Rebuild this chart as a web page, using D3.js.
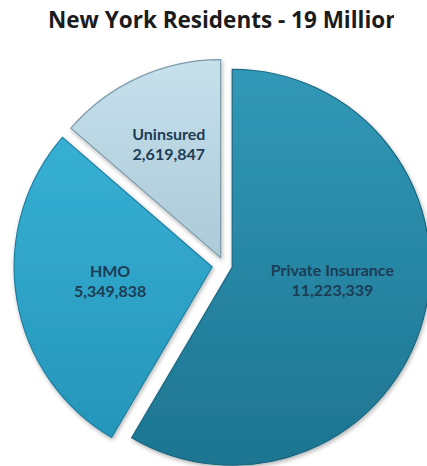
<!DOCTYPE html>
<html>
<head>
<meta charset="utf-8" />
<script src="https://d3js.org/d3.v7.min.js"></script>
<style>
	body { margin: 0; background: #fff; }
	svg { display: block; }
</style>
</head>
<body>
<div id="chart"></div>
<script>

// chart data
var chartTitle = "New York Residents - 19 Million";
var categories = ["Private Insurance", "HMO", "Uninsured"];
var residents = [11223339, 5349838, 2619847];
var topColors = ["#3198b7", "#3ab6da", "#c6e0ec"];
var bottomColors = ["#1d7591", "#2593b8", "#93b4c4"];
var rimColors = ["#1a6680", "#1f7fa0", "#7d9cab"];

var width = 427, height = 466;
var cx = 224, cy = 265;
var radius = 198;
var explode = [8.5, 12, 8];
// where the two label lines sit, as a share of the radius, and a small turn (radians)
var labelDist = [0.51, 0.52, 0.63];
var labelTurn = [-0.14, 0.03, 0];

var svg = d3.select("#chart")
	.append("svg")
	.attr("width", width)
	.attr("height", height);

var defs = svg.append("defs");

// title, cut at the right like in the picture
defs.append("clipPath").attr("id", "titleClip")
	.append("rect")
	.attr("x", 0).attr("y", 0)
	.attr("width", 394).attr("height", 50);

svg.append("text")
	.attr("clip-path", "url(#titleClip)")
	.attr("x", 48)
	.attr("y", 28)
	.style("font-family", "'Open Sans', sans-serif")
	.style("font-weight", "bold")
	.style("font-size", "22.5px")
	.style("fill", "#1b1b1b")
	.text(chartTitle);

// one vertical gradient for each slice
categories.forEach(function (c, i) {
	var grad = defs.append("linearGradient")
		.attr("id", "grad" + i)
		.attr("gradientUnits", "userSpaceOnUse")
		.attr("x1", 0).attr("y1", -radius)
		.attr("x2", 0).attr("y2", radius);
	grad.append("stop").attr("offset", "0%").attr("stop-color", topColors[i]);
	grad.append("stop").attr("offset", "100%").attr("stop-color", bottomColors[i]);
});

var shadow = defs.append("filter")
	.attr("id", "shadow")
	.attr("x", "-20%").attr("y", "-20%")
	.attr("width", "140%").attr("height", "140%");
shadow.append("feDropShadow")
	.attr("dx", 1).attr("dy", 2)
	.attr("stdDeviation", 2)
	.attr("flood-color", "#000")
	.attr("flood-opacity", 0.3);

var pie = d3.pie().sort(null).value(function (d) { return d; });
var arcs = pie(residents);

var arc = d3.arc().innerRadius(0).outerRadius(radius);

function offset(d, i) {
	var a = (d.startAngle + d.endAngle) / 2;
	return [explode[i] * Math.sin(a), -explode[i] * Math.cos(a)];
}

var pieGroup = svg.append("g")
	.attr("transform", "translate(" + cx + "," + cy + ")");

pieGroup.selectAll("path.slice")
	.data(arcs)
	.enter()
	.append("path")
	.attr("class", "slice")
	.attr("transform", function (d, i) {
		var o = offset(d, i);
		return "translate(" + o[0] + "," + o[1] + ")";
	})
	.attr("d", arc)
	.style("fill", function (d, i) { return "url(#grad" + i + ")"; })
	.style("stroke", function (d, i) { return rimColors[i]; })
	.style("stroke-width", 1.2)
	.attr("filter", "url(#shadow)");

// labels: name and value on two lines
var fmt = d3.format(",");

var labels = pieGroup.selectAll("text.label")
	.data(arcs)
	.enter()
	.append("text")
	.attr("class", "label")
	.attr("transform", function (d, i) {
		var o = offset(d, i);
		var a = (d.startAngle + d.endAngle) / 2 + labelTurn[i];
		var r = radius * labelDist[i];
		var x = o[0] + r * Math.sin(a);
		var y = o[1] - r * Math.cos(a);
		return "translate(" + x + "," + y + ")";
	})
	.style("text-anchor", "middle")
	.style("font-family", "Lato, 'Open Sans', sans-serif")
	.style("font-weight", "bold")
	.style("font-size", "16px")
	.style("fill", "#1d3c55");

labels.append("tspan")
	.attr("x", 0)
	.attr("y", -4)
	.text(function (d, i) { return categories[i]; });

labels.append("tspan")
	.attr("x", 0)
	.attr("y", 16)
	.text(function (d) { return fmt(d.data); });

</script>
</body>
</html>
